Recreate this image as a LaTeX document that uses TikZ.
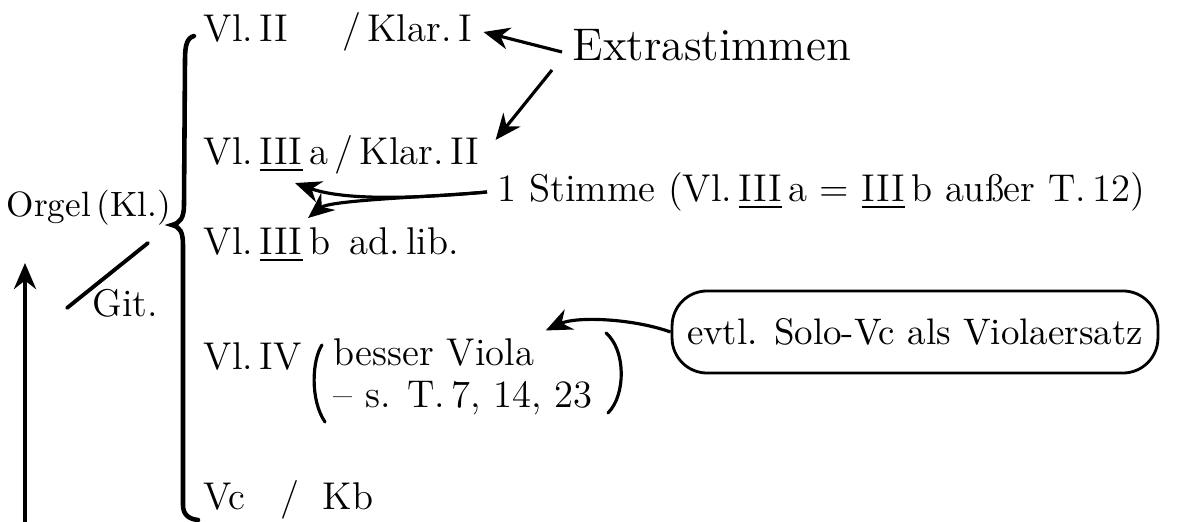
\documentclass[tikz,border=0pt]{standalone}
\usepackage{amsmath}
\usetikzlibrary{arrows.meta, positioning, calc}

\begin{document}
\begin{tikzpicture}[x=0.01cm, y=0.01cm, every node/.style={inner sep=0pt},
  besetzung/.style={anchor=west, font=\fontsize{11}{13}\selectfont},
  pfeil/.style={-{Stealth[length=2.6mm, width=2.2mm]}, line width=0.9pt},
  klammer/.style={line width=1.3pt, line cap=round}]
\useasboundingbox (0,0) rectangle (1181,-522);
\pgfmathsetmacro{\stimmx}{203}

\node[besetzung] (vlzwei) at (\stimmx,-32) {Vl.\,II\hspace{1.4em}/\,Klar.\,I};
\node[besetzung] (vldreia) at (\stimmx,-155) {Vl.\,\underline{III}\,a\,/\,Klar.\,II};
\node[besetzung] (vldreib) at (\stimmx,-245) {Vl.\,\underline{III}\,b\ \,ad.\,lib.};
\node[besetzung] (vlvier) at (\stimmx,-356) {Vl.\,IV};
\node[besetzung] (viola) at (333,-352) {besser Viola};
\node[besetzung] (takte) at (333,-398) {-- s. T.\,7, 14, 23};
\node[besetzung] (vckb) at (\stimmx,-500) {Vc\hspace{0.9em}/\hspace{0.6em}Kb};

\node[besetzung, font=\fontsize{10}{12}\selectfont] (orgel) at (6,-208) {Orgel\,(Kl.)};
\node[besetzung] (git) at (92,-303) {Git.};

\node[besetzung, font=\fontsize{13}{15}\selectfont] (extra) at (572,-45) {Extrastimmen};
\node[besetzung] (einestimme) at (497,-192) {1 Stimme (Vl.\,\underline{III}\,a = \underline{III}\,b außer T.\,12)};
\node[draw, rounded corners=0.35cm, line width=0.8pt, inner xsep=0.15cm, minimum height=0.82cm,
  font=\fontsize{10.5}{12}\selectfont] (ersatz) at (915,-332) {evtl. Solo-Vc als Violaersatz};

% Klammer
\draw[klammer] (194,-36) .. controls (187,-38) and (185,-45) .. (185,-60) -- (184,-205)
  .. controls (184,-218) and (180,-223) .. (172,-225) .. controls (180,-227) and (183,-232) .. (183,-245)
  -- (183,-505) .. controls (183,-514) and (188,-519) .. (198,-520);
\draw[klammer, line width=0.9pt] (322,-345) .. controls (312,-360) and (310,-400) .. (325,-422);
\draw[klammer, line width=0.9pt] (606,-333) .. controls (626,-350) and (626,-395) .. (608,-413);
\draw[klammer, line width=1.1pt] (67,-308) -- (148,-243);

\draw[pfeil] ([yshift=-0.07cm, xshift=-0.1cm]extra.west) -- ([xshift=0.11cm]vlzwei.east);
\draw[pfeil] ([xshift=-0.2cm, yshift=-0.25cm]extra.west) -- ([xshift=0.16cm, yshift=-0.05cm]vldreia.north east);

\coordinate (ast) at ([xshift=-0.1cm]einestimme.west);
\draw[pfeil] (ast) .. controls +(-0.87cm,-0.08cm) and +(0.45cm,-0.16cm) .. ([xshift=0.92cm, yshift=-0.08cm]vldreia.south west);
\draw[pfeil] (ast) .. controls (430,-197) and (330,-200) .. ([xshift=1.05cm, yshift=0.09cm]vldreib.north west);

\draw[pfeil] (ersatz.west) .. controls +(-0.4cm,0.14cm) and +(0.3cm,0.14cm) .. ([xshift=0.11cm, yshift=0.07cm]viola.north east);

\coordinate (pfeilfuss) at (25,-522);
\coordinate (pfeilspitze) at (25,-263);
\draw[pfeil, line width=1.2pt] (pfeilfuss) -- (pfeilspitze);
\end{tikzpicture}
\end{document}
